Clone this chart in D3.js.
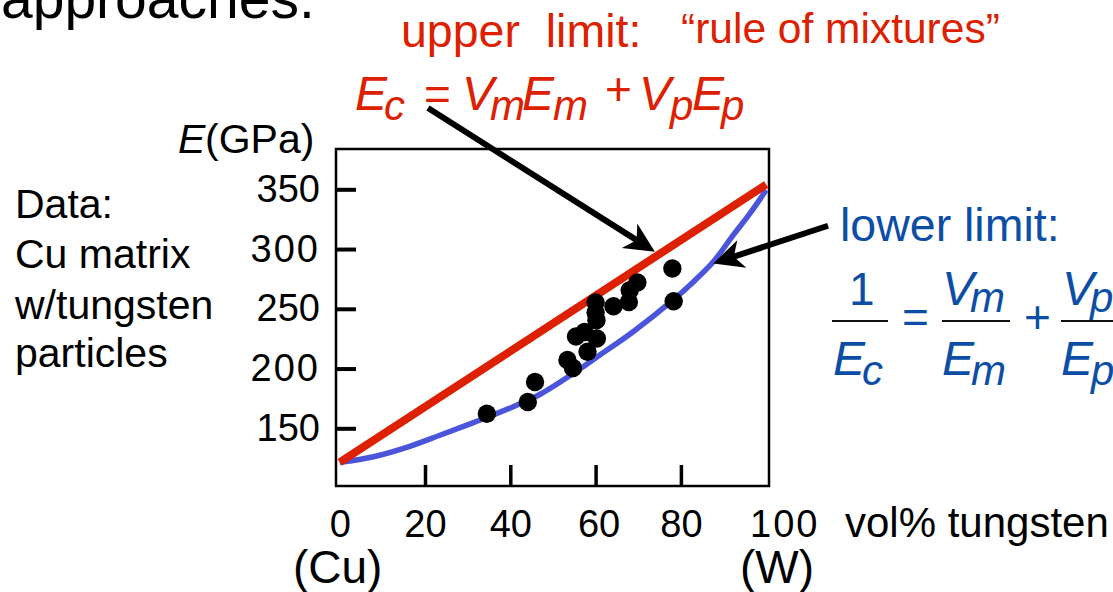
<!DOCTYPE html>
<html>
<head>
<meta charset="utf-8">
<script src="https://cdn.jsdelivr.net/npm/d3@7"></script>
<style>
body { margin: 0; background: #fff; }
svg { display: block; font-family: "Liberation Sans", Arial, Helvetica, sans-serif; }
</style>
</head>
<body>
<div id="wrapper"></div>
<script>
// tick labels
var volTicks = [0, 20, 40, 60, 80, 100];
var gpaTicks = [150, 200, 250, 300, 350];

// upper limit (rule of mixtures), straight line
var upperVol = [0, 100];
var upperE = [121.5, 354];

// lower limit curve
var lowerVol = [0, 7.9, 15.7, 23.5, 29.8, 34.5, 40.7, 47.0, 54.8, 61.0, 68.8, 78.2, 82.9, 87.6, 92.3, 96.2, 100];
var lowerE = [121.5, 126.2, 134.1, 144.2, 152.6, 159.0, 168.1, 178.5, 196.0, 211.3, 230.8, 257.4, 272.5, 289.4, 311.8, 329.9, 349.4];

// measured Cu-W data
var dataVol = [34.5, 44.1, 45.8, 53.4, 54.7, 55.4, 57.4, 58.1, 60.3, 60.2, 60.0, 60.0, 64.2, 67.8, 68.0, 69.8, 78.0, 78.3];
var dataE = [162.2, 172.0, 188.7, 207.2, 200.5, 226.8, 230.6, 214.1, 225.1, 240.4, 246.9, 255.3, 252.1, 255.6, 265.6, 272.0, 283.7, 256.3];

// pointer arrows (from, to) in data units
var upperArrow = [[20.7, 418], [73.9, 297.8]];
var lowerArrow = [[114.5, 319.5], [87.6, 288]];

var w = 1113, h = 592;
var red = "#dc2000", blueTxt = "#0c4ea6", blueLine = "#4b55db";

var frame = { left: 336, right: 769, top: 149, bottom: 486 };

var x = d3.scaleLinear().domain([0, 100]).range([339.7, 766.2]);
var y = d3.scaleLinear().domain([150, 350]).range([428.3, 189.3]);

var svg = d3.select("#wrapper")
  .append("svg")
  .attr("width", w)
  .attr("height", h);

// frame
svg.append("rect")
  .attr("x", frame.left)
  .attr("y", frame.top)
  .attr("width", frame.right - frame.left)
  .attr("height", frame.bottom - frame.top)
  .attr("fill", "none")
  .attr("stroke", "#000")
  .attr("stroke-width", 2.5);

// y axis, inward ticks
var yAxis = svg.append("g")
  .attr("transform", "translate(" + frame.left + ",0)")
  .call(d3.axisLeft(y).tickValues(gpaTicks).tickSize(-20).tickPadding(16));
yAxis.select(".domain").remove();
yAxis.selectAll(".tick line").attr("stroke-width", 4);
yAxis.selectAll("text")
  .attr("font-size", 38)
  .attr("font-family", "Liberation Sans, Arial, sans-serif")
  .attr("fill", "#000")
  .attr("letter-spacing", function(d){ return (d == 300 || d == 200) ? 2 : 0; });

// x axis, inward ticks (no marks at 0 and 100)
var xAxis = svg.append("g")
  .attr("transform", "translate(0," + frame.bottom + ")")
  .call(d3.axisBottom(x).tickValues(volTicks).tickSize(-21).tickPadding(24));
xAxis.select(".domain").remove();
xAxis.selectAll(".tick line")
  .attr("stroke-width", 3.5)
  .attr("display", function(d){ return (d == 0 || d == 100) ? "none" : null; });
xAxis.selectAll("text")
  .attr("font-size", 38)
  .attr("font-family", "Liberation Sans, Arial, sans-serif")
  .attr("fill", "#000")
  .attr("letter-spacing", function(d){ return d == 100 ? 2 : 0; })
  .attr("dx", function(d){ return d == 100 ? 18 : (d == 60 ? 3 : 0); });

// lower limit curve
var lowerPts = lowerVol.map(function(v, i){ return [v, lowerE[i]]; });
svg.append("path")
  .datum(lowerPts)
  .attr("fill", "none")
  .attr("stroke", blueLine)
  .attr("stroke-width", 5.5)
  .attr("d", d3.line()
    .x(function(d){ return x(d[0]); })
    .y(function(d){ return y(d[1]); })
    .curve(d3.curveCatmullRom.alpha(0.5)));

// upper limit line
var upperPts = upperVol.map(function(v, i){ return [v, upperE[i]]; });
svg.append("path")
  .datum(upperPts)
  .attr("fill", "none")
  .attr("stroke", red)
  .attr("stroke-width", 8)
  .attr("d", d3.line()
    .x(function(d){ return x(d[0]); })
    .y(function(d){ return y(d[1]); }));

// data dots
svg.append("g").selectAll("circle")
  .data(dataVol)
  .enter()
  .append("circle")
  .attr("cx", function(d){ return x(d); })
  .attr("cy", function(d, i){ return y(dataE[i]); })
  .attr("r", 9.2)
  .attr("fill", "#000");

// arrows
function arrow(a){
  var x0 = x(a[0][0]), y0 = y(a[0][1]);
  var x1 = x(a[1][0]), y1 = y(a[1][1]);
  var dx = x1 - x0, dy = y1 - y0, len = Math.sqrt(dx*dx + dy*dy);
  var ux = dx/len, uy = dy/len, nx = -uy, ny = ux;
  var L = 30, W = 14.5, notch = 0.72;
  svg.append("line")
    .attr("x1", x0).attr("y1", y0)
    .attr("x2", x1 - ux*L*notch).attr("y2", y1 - uy*L*notch)
    .attr("stroke", "#000")
    .attr("stroke-width", 6);
  var p = [
    [x1, y1],
    [x1 - ux*L + nx*W, y1 - uy*L + ny*W],
    [x1 - ux*L*notch, y1 - uy*L*notch],
    [x1 - ux*L - nx*W, y1 - uy*L - ny*W]
  ];
  svg.append("path")
    .attr("d", "M" + p.map(function(q){ return q.join(","); }).join("L") + "Z")
    .attr("fill", "#000");
}
arrow(upperArrow);
arrow(lowerArrow);

// plain texts
function txt(s, px, py, size, color, style){
  return svg.append("text")
    .attr("x", px)
    .attr("y", py)
    .attr("font-size", size)
    .attr("fill", color)
    .attr("font-style", style || "normal")
    .style("white-space", "pre")
    .text(s);
}

txt("approaches.", 1, 18, 57, "#000");
txt("upper  limit:", 401, 47, 46.5, red);
txt("\u201Crule of mixtures\u201D", 681, 43, 42.5, red);

// E_c = V_m E_m + V_p E_p
var upEq = [
  ["E", 355, 110, 48, "italic"], ["c", 384, 120, 42, "italic"],
  ["=", 424, 110, 46, "normal"],
  ["V", 462, 110, 48, "italic"], ["m", 490, 120, 42, "italic"],
  ["E", 522, 110, 48, "italic"], ["m", 553, 120, 42, "italic"],
  ["+", 605, 105, 46, "normal"],
  ["V", 639, 110, 48, "italic"], ["p", 670, 120, 42, "italic"],
  ["E", 692, 110, 48, "italic"], ["p", 721, 120, 42, "italic"]
];
upEq.forEach(function(d){ txt(d[0], d[1], d[2], d[3], red, d[4]); });

txt("E", 178, 153, 41, "#000", "italic");
txt("(GPa)", 205, 153, 41, "#000");

txt("Data:", 15, 218, 41, "#000");
txt("Cu matrix", 15, 268, 41, "#000");
txt("w/tungsten", 15, 319, 41, "#000");
txt("particles", 15, 367, 41, "#000");

txt("vol% tungsten", 845, 537, 42, "#000");
txt("(Cu)", 293, 583, 46, "#000");
txt("(W)", 740, 583, 46, "#000");

// lower limit formula
txt("lower limit:", 840, 241, 46.5, blueTxt);
var loEq = [
  ["1", 849, 305, 46, "normal"],
  ["=", 902, 333, 46, "normal"],
  ["V", 942, 305, 48, "italic"], ["m", 970, 312, 42, "italic"],
  ["+", 1024, 333, 46, "normal"],
  ["V", 1062, 305, 48, "italic"], ["p", 1090, 312, 42, "italic"],
  ["E", 833, 375, 48, "italic"], ["c", 862, 385, 42, "italic"],
  ["E", 942, 375, 48, "italic"], ["m", 971, 385, 42, "italic"],
  ["E", 1061, 375, 48, "italic"], ["p", 1091, 385, 42, "italic"]
];
loEq.forEach(function(d){ txt(d[0], d[1], d[2], d[3], blueTxt, d[4]); });

// fraction bars
[[832, 888], [942, 1010], [1061, 1113]].forEach(function(b){
  svg.append("line")
    .attr("x1", b[0]).attr("x2", b[1])
    .attr("y1", 321).attr("y2", 321)
    .attr("stroke", "#111")
    .attr("stroke-width", 2);
});
</script>
</body>
</html>
